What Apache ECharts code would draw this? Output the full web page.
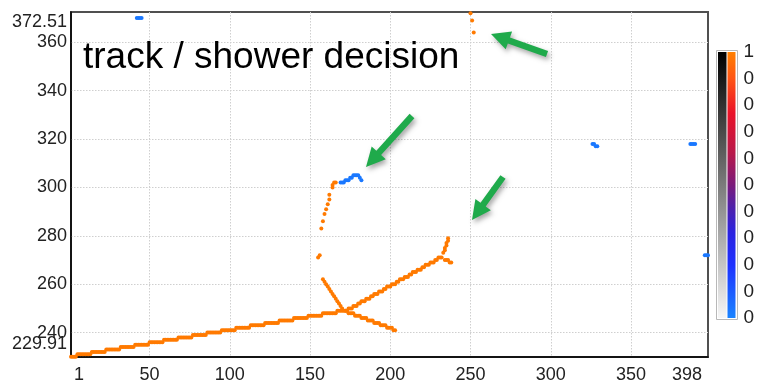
<!DOCTYPE html>
<html>
<head>
<meta charset="utf-8">
<script src="https://cdn.jsdelivr.net/npm/echarts@6/dist/echarts.min.js"></script>
<style>
  html, body { margin: 0; padding: 0; background: #fff; }
  #chart { width: 757px; height: 384px; }
</style>
</head>
<body>
<div id="chart"></div>
<script>
// Axis ranges and tick labels
const xMin = 1, xMax = 398;
const yMin = 229.91, yMax = 372.51;
const xLabels = [1, 50, 100, 150, 200, 250, 300, 350, 398];
const yLabels = [240, 260, 280, 300, 320, 340, 360];
const yRangeLabels = [229.91, 372.51];
const xGridValues = [50, 100, 150, 200, 250, 300, 350];
const yGridValues = [240, 260, 280, 300, 320, 340, 360];
const colorbarLabels = ['0', '0', '0', '0', '0', '0', '0', '0', '0', '0', '1'];

// Long track hits: y per wire, starting at wire 1
const mainTrackStart = 1;
const mainTrackY = [
  230, 230, 230, 230,
  231, 231, 231, 231, 231, 231, 231, 231, 231,
  232, 232, 232, 232, 232, 232, 232, 232, 232,
  233, 233, 233, 233, 233, 233, 233, 233, 233,
  234, 234, 234, 234, 234, 234, 234, 234, 234,
  235, 235, 235, 235, 235, 235, 235, 235, 235,
  236, 236, 236, 236, 236, 236, 236, 236, 236,
  237, 237, 237, 237, 237, 237, 237, 237, 237,
  238, 238, 238, 238, 238, 238, 238, 238, 238,
  239, 239, 239, 239, 239, 239, 239, 239, 239,
  240, 240, 240, 240, 240, 240, 240, 240, 240,
  241, 241, 241, 241, 241, 241, 241, 241, 241,
  242, 242, 242, 242, 242, 242, 242, 242, 242,
  243, 243, 243, 243, 243, 243, 243, 243, 243,
  244, 244, 244, 244, 244, 244, 244, 244, 244,
  245, 245, 245, 245, 245, 245, 245, 245, 245,
  246, 246, 246, 246, 246, 246, 246, 246, 246,
  247, 247, 247, 247, 247, 247, 247, 247, 247,
  248, 248, 248, 248, 248, 248, 248, 248, 248,
  249, 249, 249, 249, 249
];

// Upper branch leaving the vertex, starting at wire 172
const upperBranchStart = 172;
const upperBranchY = [
  249, 249, 250, 250, 250, 251, 251, 251, 252, 252, 253, 253, 253, 254, 254, 254,
  255, 255, 256, 256, 256, 257, 257, 257, 258, 258, 259, 259, 259, 260, 260, 260,
  261, 261, 262, 262, 262, 263, 263, 263, 264, 264, 265, 265, 265, 266, 266, 266,
  267, 267, 268, 268, 268, 269, 269, 269, 270, 270, 271, 271, 271
];

// Lower branch leaving the vertex, starting at wire 172
const lowerBranchStart = 172;
const lowerBranchY = [
  249, 249, 248, 248, 248, 248, 247, 247, 247, 247, 246, 246, 246, 246, 245, 245,
  245, 245, 244, 244, 244, 244, 243, 243, 243, 243, 242, 242, 242, 242, 241, 241
];

// Steep branch coming into the vertex, starting at wire 158
const steepBranchStart = 158;
const steepBranchY = [262, 261, 260, 259, 258, 257, 256, 255, 254, 253, 252, 251, 250];

// Scattered track-like hits [wire, time]
const trackHits = [
  [155, 271], [156, 272],
  [157, 283], [158, 286], [159, 289], [160, 291], [161, 293], [162, 295], [162, 297],
  [164, 300], [164, 301], [165, 302], [166, 302],
  [233, 273], [234, 274], [234, 275], [235, 276], [235, 277], [236, 278], [236, 279],
  [234, 270], [235, 270], [236, 270], [237, 269], [238, 269],
  [250, 372], [251, 369], [252, 364]
];

// Shower-like hits [wire, time]
const showerHits = [
  [42, 370], [43, 370], [44, 370], [45, 370],
  [169, 302], [170, 302], [171, 302], [172, 303], [173, 303], [174, 303], [175, 304],
  [176, 304], [177, 305], [178, 305], [179, 305], [180, 305], [181, 304], [182, 303],
  [326, 318], [327, 318], [328, 317], [329, 317],
  [387, 318], [388, 318], [389, 318], [390, 318],
  [396, 272], [397, 272], [398, 272]
];

// Annotation arrows: [tailX, tailY, tipX, tipY] in pixels
const arrows = [
  [547, 54, 491, 34],
  [412, 116, 366, 167],
  [503, 177, 472, 220]
];

function runToPoints(start, ys) {
  return ys.map((y, i) => [start + i, y]);
}

const trackPoints = []
  .concat(runToPoints(mainTrackStart, mainTrackY))
  .concat(runToPoints(upperBranchStart, upperBranchY))
  .concat(runToPoints(lowerBranchStart, lowerBranchY))
  .concat(runToPoints(steepBranchStart, steepBranchY))
  .concat(trackHits);

function arrowPolygon(a) {
  const [x1, y1, x2, y2] = a;
  const dx = x2 - x1, dy = y2 - y1;
  const len = Math.sqrt(dx * dx + dy * dy);
  const ux = dx / len, uy = dy / len;
  const nx = -uy, ny = ux;
  const shaft = 3.2, head = 9.5, headLen = 19;
  const bx = x2 - ux * headLen, by = y2 - uy * headLen;
  return [
    [x1 + nx * shaft, y1 + ny * shaft],
    [bx + nx * shaft, by + ny * shaft],
    [bx + nx * head, by + ny * head],
    [x2, y2],
    [bx - nx * head, by - ny * head],
    [bx - nx * shaft, by - ny * shaft],
    [x1 - nx * shaft, y1 - ny * shaft]
  ];
}

const FONT = 'Liberation Sans, Arial, sans-serif';
const labelColor = '#222';
const LABEL_SIZE = 18;

const chart = echarts.init(document.getElementById('chart'), null, { renderer: 'canvas' });

const graphics = [
  // colour bar frame
  { type: 'rect', shape: { x: 716.5, y: 50.5, width: 21, height: 269 },
    style: { fill: '#fff', stroke: '#b8b8b8', lineWidth: 1 }, z: 5 },
  // greyscale strip
  { type: 'rect', shape: { x: 718, y: 52, width: 8.5, height: 266 },
    style: { fill: new echarts.graphic.LinearGradient(0, 0, 0, 1, [
      { offset: 0, color: '#000000' },
      { offset: 1, color: '#f6f6f6' }
    ]) }, z: 6 },
  // colour strip
  { type: 'rect', shape: { x: 727.5, y: 52, width: 8, height: 266 },
    style: { fill: new echarts.graphic.LinearGradient(0, 0, 0, 1, [
      { offset: 0, color: '#ff8000' },
      { offset: 0.1, color: '#ff5414' },
      { offset: 0.23, color: '#ea1229' },
      { offset: 0.38, color: '#b8184a' },
      { offset: 0.5, color: '#7a1a7a' },
      { offset: 0.58, color: '#5020a8' },
      { offset: 0.68, color: '#2a22e0' },
      { offset: 0.8, color: '#1e30ff' },
      { offset: 1, color: '#1a84ff' }
    ]) }, z: 6 },
  // caption
  { type: 'text', left: 83, top: 39, z: 20,
    style: { text: 'track / shower decision', fill: '#000', fontSize: 37, fontFamily: FONT } }
];

arrows.forEach(a => {
  graphics.push({
    type: 'polygon', z: 30,
    shape: { points: arrowPolygon(a) },
    style: {
      fill: '#1faa4b',
      shadowBlur: 5, shadowOffsetX: 2, shadowOffsetY: 3, shadowColor: 'rgba(0,0,0,0.35)'
    }
  });
});

const gridLineStyle = { color: '#cfcfcf', width: 1, type: [1.5, 1.5] };
const labelText = { fontSize: LABEL_SIZE, fontFamily: FONT, color: labelColor };

const option = {
  animation: false,
  backgroundColor: '#fff',
  grid: [
    { left: 71, right: 49, top: 12, bottom: 27, show: true, borderColor: '#505050', borderWidth: 2 },
    { left: 727, top: 52, width: 9, height: 266, show: false }
  ],
  xAxis: [
    {
      type: 'value', min: xMin, max: xMax, gridIndex: 0,
      axisLine: { show: true, onZero: false, lineStyle: { color: '#000', width: 1.5 } },
      axisTick: { show: false, customValues: xGridValues },
      splitLine: { show: true, lineStyle: gridLineStyle },
      axisLabel: Object.assign({
        customValues: xLabels, margin: 9,
        showMinLabel: true, showMaxLabel: true, hideOverlap: false,
        formatter: v => v === xMin ? '{first|' + v + '}' : (v === xMax ? '{last|' + v + '}' : String(v)),
        rich: {
          first: Object.assign({ padding: [0, 0, 0, 16] }, labelText),
          last: Object.assign({ padding: [0, 42, 0, 0] }, labelText)
        }
      }, labelText)
    },
    { type: 'value', gridIndex: 1, show: false, min: 0, max: 1 }
  ],
  yAxis: [
    {
      // main value axis with the round tick labels and grid lines
      type: 'value', min: yMin, max: yMax, gridIndex: 0,
      axisLine: { show: true, onZero: false, lineStyle: { color: '#000', width: 1.5 } },
      axisTick: { show: false, customValues: yGridValues },
      splitLine: { show: true, lineStyle: gridLineStyle },
      axisLabel: Object.assign({ customValues: yLabels, margin: 4 }, labelText)
    },
    {
      // companion axis carrying only the range end labels
      type: 'value', min: yMin, max: yMax, gridIndex: 0, position: 'left',
      axisLine: { show: false },
      axisTick: { show: false },
      splitLine: { show: false },
      axisLabel: Object.assign({
        customValues: yRangeLabels, margin: 4,
        showMinLabel: true, showMaxLabel: true, hideOverlap: false,
        formatter: v => v === yMax ? '{top|' + v + '}' : '{bot|' + v + '}',
        rich: {
          top: Object.assign({ padding: [20, 0, 0, 0] }, labelText),
          bot: Object.assign({ padding: [0, 0, 26, 0] }, labelText)
        }
      }, labelText)
    },
    {
      type: 'category', gridIndex: 1, position: 'right', data: colorbarLabels,
      boundaryGap: false,
      axisLine: { show: true, lineStyle: { color: '#9a9a9a', width: 1 } },
      axisTick: { show: true, length: 4, interval: 0, lineStyle: { color: '#555', width: 1.5 } },
      axisLabel: { interval: 0, margin: 9, fontSize: 19, fontFamily: FONT, color: labelColor },
      splitLine: { show: false }
    }
  ],
  graphic: graphics,
  series: [
    {
      name: 'track', type: 'scatter', xAxisIndex: 0, yAxisIndex: 0,
      data: trackPoints, symbol: 'circle', symbolSize: 4,
      itemStyle: { color: '#ff7a00', opacity: 1 }, silent: true, z: 3
    },
    {
      name: 'shower', type: 'scatter', xAxisIndex: 0, yAxisIndex: 0,
      data: showerHits, symbol: 'circle', symbolSize: 4,
      itemStyle: { color: '#1a78ff', opacity: 1 }, silent: true, z: 3
    }
  ]
};

chart.setOption(option);
</script>
</body>
</html>
